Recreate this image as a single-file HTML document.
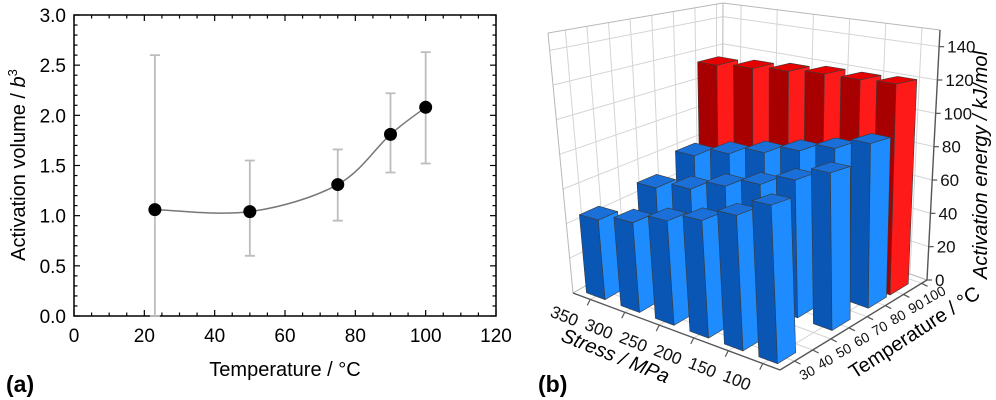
<!DOCTYPE html>
<html><head><meta charset="utf-8">
<style>
html,body{margin:0;padding:0;background:#fff;}
svg{display:block;font-family:"Liberation Sans",Arial,sans-serif;}
</style></head>
<body>
<svg id="fig" width="996" height="400" viewBox="0 0 996 400" xmlns="http://www.w3.org/2000/svg">
  <g id="chartA"></g>
  <g id="chartB"></g>
  <text x="6" y="392" font-size="23" font-weight="bold">(a)</text>
  <text x="538" y="392" font-size="23" font-weight="bold">(b)</text>
</svg>
<script>
// ---------- Chart (a) data ----------
const tempsA = [23, 50, 75, 90, 100];
const volA = [1.06, 1.04, 1.31, 1.81, 2.08];
const errHiA = [2.6, 1.55, 1.66, 2.22, 2.63];
const errLoA = [0.0, 0.6, 0.95, 1.43, 1.52];
const xTicksA = [0, 20, 40, 60, 80, 100, 120];
const yTicksA = [0.0, 0.5, 1.0, 1.5, 2.0, 2.5, 3.0];

// ---------- Chart (b) data ----------
const stressB = [350, 300, 250, 200, 150, 100];
const rowTempsB = [92, 80, 60, 30];
const energyRed90 = [114, 116, 118, 120, 120, 121];
const energyBlue80 = [59, 66, 72, 78, 84, 91];
const energyBlue60 = [49, 54, 61, 67, 74, 82];
const energyBlue30 = [45, 49, 55, 60, 67, 76];
const stressTicksB = [350, 300, 250, 200, 150, 100];
const tempTicksB = [30, 40, 50, 60, 70, 80, 90, 100];
const energyTicksB = [0, 20, 40, 60, 80, 100, 120, 140];

const NS = "http://www.w3.org/2000/svg";
function mk(parent, tag, attrs) {
  const el = document.createElementNS(NS, tag);
  for (const k in attrs) el.setAttribute(k, attrs[k]);
  parent.appendChild(el);
  return el;
}

// ================= Chart A =================
(function () {
  const g = document.getElementById('chartA');
  const X0 = 74, X1 = 496, Y0 = 316, Y1 = 15;
  const xs = v => X0 + (v - 0) / 120 * (X1 - X0);
  const ys = v => Y0 - (v - 0) / 3 * (Y0 - Y1);
  const frame = mk(g, 'rect', {x: X0, y: Y1, width: X1 - X0, height: Y0 - Y1, fill: 'none', stroke: '#000', 'stroke-width': 1.5});
  
  
  for (let v = 0; v <= 120.001; v += 5) {
    const major = Math.abs(v % 20) < 0.01;
    const L = major ? 6 : 3.5;
    const x = xs(v);
    const t1 = mk(g, 'line', {x1: x, y1: Y0, x2: x, y2: Y0 - L, stroke: '#000', 'stroke-width': 1.2});
    
    
    const t2 = mk(g, 'line', {x1: x, y1: Y1, x2: x, y2: Y1 + L, stroke: '#000', 'stroke-width': 1.2});
    
    
  }
  for (let i = 0; i <= 30; i++) {
    const v = i / 10;
    const major = i % 5 === 0;
    const L = major ? 6 : 3.5;
    const y = ys(v);
    const t1 = mk(g, 'line', {x1: X0, y1: y, x2: X0 + L, y2: y, stroke: '#000', 'stroke-width': 1.2});
    
    
    const t2 = mk(g, 'line', {x1: X1, y1: y, x2: X1 - L, y2: y, stroke: '#000', 'stroke-width': 1.2});
    
    
  }
  xTicksA.forEach(v => {
    const t = mk(g, 'text', {x: xs(v), y: 342, 'font-size': 19, 'text-anchor': 'middle'});
    t.textContent = v;
    
    
  });
  yTicksA.forEach(v => {
    const t = mk(g, 'text', {x: 66, y: ys(v) + 7, 'font-size': 19, 'text-anchor': 'end'});
    t.textContent = v.toFixed(1);
    
    
  });
  const xt = mk(g, 'text', {x: 285, y: 376, 'font-size': 20, 'text-anchor': 'middle'});
  xt.textContent = 'Temperature / °C';
  
  
  const yt = mk(g, 'text', {transform: 'translate(25,165) rotate(-90)', 'font-size': 20, 'text-anchor': 'middle'});
  yt.innerHTML = 'Activation volume / <tspan font-style="italic">b</tspan><tspan dy="-8" font-size="13">3</tspan>';
  
  
  tempsA.forEach((tv, i) => {
    const x = xs(tv);
    const eb = mk(g, 'path', {d: `M${x},${ys(errHiA[i])}V${ys(errLoA[i])}M${x - 5},${ys(errHiA[i])}h10M${x - 5},${ys(errLoA[i])}h10`, stroke: '#bdbdbd', 'stroke-width': 1.8, fill: 'none'});
    
    
  });
  const pts = tempsA.map((tv, i) => [xs(tv), ys(volA[i])]);
  let d = `M${pts[0][0]},${pts[0][1]}`;
  for (let i = 0; i < pts.length - 1; i++) {
    const p0 = pts[Math.max(0, i - 1)], p1 = pts[i], p2 = pts[i + 1], p3 = pts[Math.min(pts.length - 1, i + 2)];
    const c1 = [p1[0] + (p2[0] - p0[0]) / 6, p1[1] + (p2[1] - p0[1]) / 6];
    const c2 = [p2[0] - (p3[0] - p1[0]) / 6, p2[1] - (p3[1] - p1[1]) / 6];
    d += `C${c1[0]},${c1[1]} ${c2[0]},${c2[1]} ${p2[0]},${p2[1]}`;
  }
  const curve = mk(g, 'path', {d: d, stroke: '#777', 'stroke-width': 1.5, fill: 'none'});
  
  
  pts.forEach(p => {
    const c = mk(g, 'circle', {cx: p[0], cy: p[1], r: 6.5, fill: '#000'});
    
    
  });
})();

// ================= Chart B (3D bars) =================
(function () {
  const g = document.getElementById('chartB');
  const S0 = 75, S1 = 375, T0 = 22, T1 = 103, EMAX = 150;
  const F = [780, 370], L = [573, 293], R = [927, 280], B = [722, 207];
  const Ft = [767, 52], Lt = [548, 33], Rt = [940, 30], Bt = [723, 3];
  function bil(a, b, c, dd, u, v) {
    return [
      a[0] * (1 - u) * (1 - v) + b[0] * u * (1 - v) + c[0] * (1 - u) * v + dd[0] * u * v,
      a[1] * (1 - u) * (1 - v) + b[1] * u * (1 - v) + c[1] * (1 - u) * v + dd[1] * u * v
    ];
  }
  function P(s, t, e) {
    const u = (s - S0) / (S1 - S0), v = (t - T0) / (T1 - T0), w = e / EMAX;
    const f = bil(F, L, R, B, u, v), tp = bil(Ft, Lt, Rt, Bt, u, v);
    return [f[0] * (1 - w) + tp[0] * w, f[1] * (1 - w) + tp[1] * w];
  }
  function line(a, b, col, wd, name) {
    const el = mk(g, 'line', {x1: a[0], y1: a[1], x2: b[0], y2: b[1], stroke: col, 'stroke-width': wd});
    
    
    return el;
  }
  const GC = '#d4d4d4';
  tempTicksB.forEach(t => line(P(S1, t, 0), P(S1, t, EMAX), GC, 1, 'left-wall-grid'));
  energyTicksB.forEach(e => line(P(S1, T0, e), P(S1, T1, e), GC, 1, 'left-wall-grid'));
  stressTicksB.forEach(s => line(P(s, T1, 0), P(s, T1, EMAX), GC, 1, 'back-wall-grid'));
  energyTicksB.forEach(e => line(P(S0, T1, e), P(S1, T1, e), GC, 1, 'back-wall-grid'));
  stressTicksB.forEach(s => line(P(s, T0, 0), P(s, T1, 0), GC, 1, 'floor-grid'));
  tempTicksB.forEach(t => line(P(S0, t, 0), P(S1, t, 0), GC, 1, 'floor-grid'));
  const EC = '#b8b8b8';
  line(P(S1, T0, 0), P(S1, T0, EMAX), EC, 1, 'box-edge');
  line(P(S1, T1, 0), P(S1, T1, EMAX), EC, 1, 'box-edge');
  line(P(S1, T0, EMAX), P(S1, T1, EMAX), EC, 1, 'box-edge');
  line(P(S1, T1, EMAX), P(S0, T1, EMAX), EC, 1, 'box-edge');
  line(P(S1, T1, 0), P(S1, T0, 0), EC, 1, 'box-edge');
  line(P(S1, T1, 0), P(S0, T1, 0), EC, 1, 'box-edge');

  const rows = [energyRed90, energyBlue80, energyBlue60, energyBlue30];
  const bars = [];
  rowTempsB.forEach((t, ri) => {
    stressB.forEach((s, si) => {
      bars.push({s: s, t: t, e: rows[ri][si], red: ri === 0});
    });
  });
  bars.sort((a, b) => ((b.s - S0) / 300 + (b.t - T0) / 81) - ((a.s - S0) / 300 + (a.t - T0) / 81));
  const DS = 13.5, DT = 5;
  bars.forEach(b => {
    const s0 = b.s - DS, s1 = b.s + DS, t0 = b.t - DT, t1 = b.t + DT, h = b.e;
    const col = b.red ? {dark: '#a80000', light: '#ff1a1a', top: '#e60000'} : {dark: '#0a56b4', light: '#1e8cff', top: '#1a6fd8'};
    const grp = mk(g, 'g', {});
    
    
    const poly = (ps, fill, nm) => {
      const el = mk(grp, 'polygon', {points: ps.map(p => p.join(',')).join(' '), fill: fill, stroke: '#3a3a3a', 'stroke-width': 0.6, 'stroke-linejoin': 'round'});
      
      
    };
    poly([P(s0, t0, 0), P(s1, t0, 0), P(s1, t0, h), P(s0, t0, h)], col.dark, 'bar-front-face');
    poly([P(s0, t0, 0), P(s0, t1, 0), P(s0, t1, h), P(s0, t0, h)], col.light, 'bar-side-face');
    poly([P(s0, t0, h), P(s1, t0, h), P(s1, t1, h), P(s0, t1, h)], col.top, 'bar-top-face');
  });

  const AC = '#555';
  line(P(S0, T0, 0), P(S1, T0, 0), AC, 1.4, 'stress-axis');
  line(P(S0, T0, 0), P(S0, T1, 0), AC, 1.4, 'temperature-axis');
  line(P(S0, T1, 0), P(S0, T1, EMAX), AC, 1.4, 'energy-axis');
  stressTicksB.forEach(s => {
    const p = P(s, T0, 0);
    line(p, [p[0] - 3, p[1] + 6], AC, 1.2, 'stress-tick');
    const t = mk(g, 'text', {x: 0, y: 0, 'font-size': 17, 'text-anchor': 'middle', transform: `translate(${p[0] - 28},${p[1] + 22}) rotate(22)`, fill: '#111'});
    t.textContent = s;
    
    
  });
  tempTicksB.forEach(tv => {
    const p = P(S0, tv, 0);
    line(p, [p[0] + 6, p[1] + 3], AC, 1.2, 'temperature-tick');
    const t = mk(g, 'text', {x: 0, y: 0, 'font-size': 14, 'text-anchor': 'middle', transform: `translate(${p[0] + 15},${p[1] + 16}) rotate(-28)`, fill: '#111'});
    t.textContent = tv;
    
    
  });
  energyTicksB.forEach(e => {
    const p = P(S0, T1, e);
    line(p, [p[0] + 5, p[1]], AC, 1.2, 'energy-tick');
    const t = mk(g, 'text', {x: p[0] + 8, y: p[1] + 6, 'font-size': 17, fill: '#111'});
    t.textContent = e;
    
    
  });
  const st = mk(g, 'text', {x: 0, y: 0, 'font-size': 20, 'font-style': 'italic', 'text-anchor': 'middle', transform: 'translate(613,362) rotate(22)'});
  st.textContent = 'Stress / MPa';
  
  
  const tt = mk(g, 'text', {x: 0, y: 0, 'font-size': 20, 'text-anchor': 'middle', transform: 'translate(918,338) rotate(-33)'});
  tt.textContent = 'Temperature / °C';
  
  
  const et = mk(g, 'text', {x: 0, y: 0, 'font-size': 20, 'font-style': 'italic', 'text-anchor': 'middle', transform: 'translate(987,165) rotate(-90)'});
  et.textContent = 'Activation energy / kJ/mol';
  
  
})();
</script>
</body></html>
